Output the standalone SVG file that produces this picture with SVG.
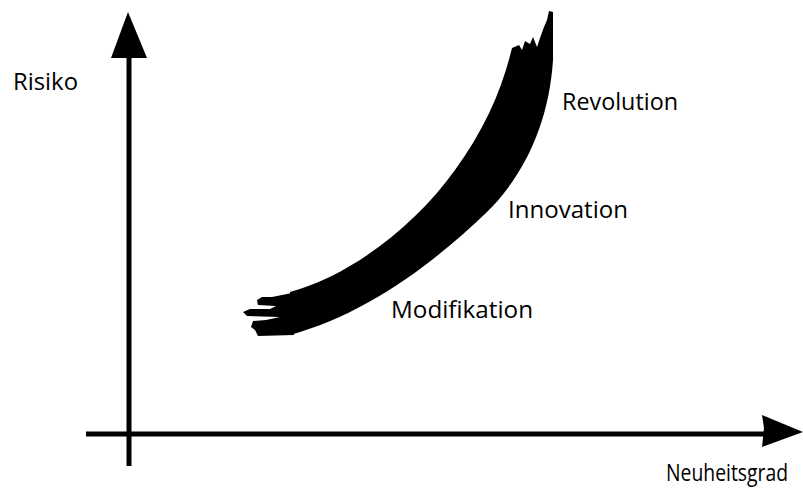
<svg xmlns="http://www.w3.org/2000/svg" width="803" height="498" viewBox="0 0 803 498">
  <style>
    .axis { stroke: #000; stroke-width: 5; fill: none; }
    .head { fill: #000; }
    .label { font-family: "Open Sans", "Noto Sans", "Liberation Sans", sans-serif; font-size: 23px; fill: #000; }
    .brush { fill: #000; }
  </style>
  <rect width="803" height="498" fill="#fff"/>

  <!-- axes -->
  <g id="axes">
    <line class="axis" x1="129" y1="466" x2="129" y2="52"/>
    <polygon class="head" points="128,12 111,58 147,58"/>
    <line class="axis" x1="86" y1="434" x2="766" y2="434"/>
    <polygon class="head" points="803,432 762,415 764,428 762,447"/>
  </g>

  <!-- rising curve drawn as a broad brush stroke -->
  <g id="curve">
    <path class="brush" d="M 290,292
      C 350,276 415,226 455,170
      C 484,130 502,90 512,48
      L 519,45 L 522,50 L 525,41 L 530,44 L 533,37 L 537,47 L 540,38 L 544,27 L 547,20 L 549,11 L 553,12 L 553,60
      C 549,122 525,175 486,213
      C 428,268 365,314 290,335 Z"/>
    <path class="brush" d="M 292,293 L 272,297 L 262,297 L 257,300 L 258,305 L 276,306 L 270,309 L 250,309 L 243,312 L 247,316 L 280,317 L 266,320 L 253,321 L 251,327 L 255,330 L 258,336 L 294,335 Z"/>
  </g>

  <g id="label-risiko"><text class="label" x="13" y="90" textLength="65" lengthAdjust="spacingAndGlyphs">Risiko</text></g>
  <g id="label-revolution"><text class="label" x="562" y="110" textLength="116" lengthAdjust="spacingAndGlyphs">Revolution</text></g>
  <g id="label-innovation"><text class="label" x="508" y="218" textLength="120" lengthAdjust="spacingAndGlyphs">Innovation</text></g>
  <g id="label-modifikation"><text class="label" x="391" y="318" textLength="142" lengthAdjust="spacingAndGlyphs">Modifikation</text></g>
  <g id="label-neuheitsgrad"><text class="label" x="666" y="481" textLength="122" lengthAdjust="spacingAndGlyphs">Neuheitsgrad</text></g>
</svg>
